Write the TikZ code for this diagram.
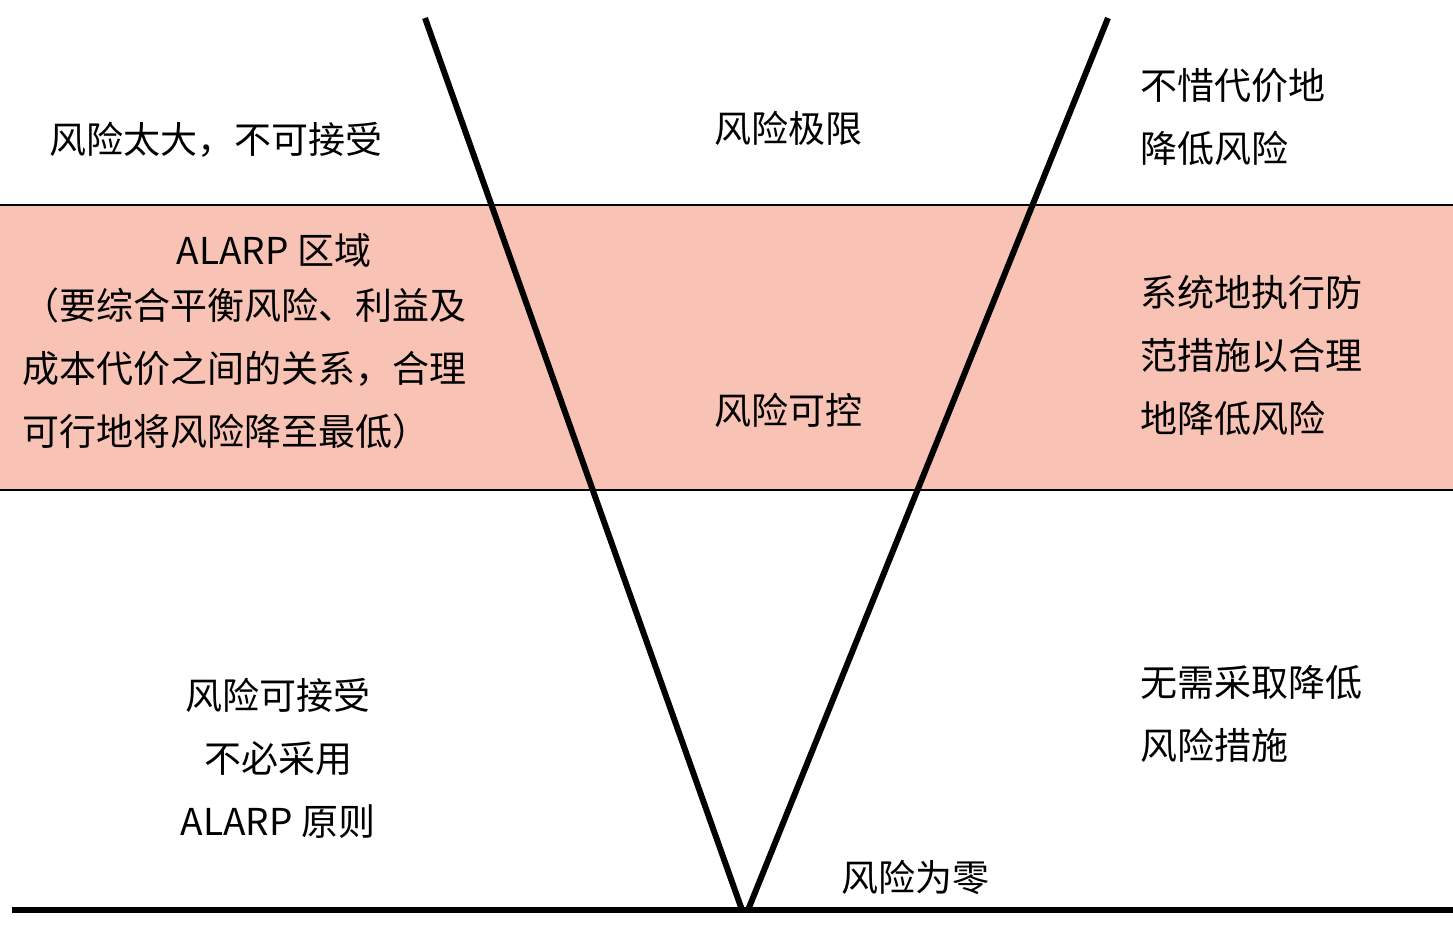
\documentclass[tikz,border=0pt]{standalone}
\usepackage{fontspec}
\setmainfont{Noto Sans CJK SC}
\definecolor{band}{HTML}{F8C3B5}
\begin{document}
\begin{tikzpicture}[x=1pt,y=-1pt,
  lbl/.style={font=\fontsize{37}{63}\selectfont,inner sep=0pt},
  thick line/.style={line width=6pt}]
\useasboundingbox (0,0) rectangle (1453,924);
\fill[band] (0,205) rectangle (1453,490);
\draw[line width=2pt] (0,205) -- (1453,205);
\draw[line width=2pt] (0,490) -- (1453,490);
\coordinate (lt) at (425,18);
\coordinate (rt) at (1108,18);
\coordinate (bl) at (742,910);
\coordinate (br) at (748,910);
\coordinate (g0) at (12,910);
\coordinate (g1) at (1453,910);
\draw[thick line] (lt) -- (bl);
\draw[thick line] (rt) -- (br);
\draw[thick line] (g0) -- (g1);
\node[lbl] (a) at (216,140) {风险太大，不可接受};
\node[lbl] (b) at (788,128) {风险极限};
\node[lbl,align=left,anchor=west] (c) at (1140,117) {不惜代价地\\降低风险};
\node[lbl] (d) at (274,250) {ALARP 区域};
\node[lbl,align=left,anchor=west] (e) at (22,368) {（要综合平衡风险、利益及\\成本代价之间的关系，合理\\可行地将风险降至最低）};
\node[lbl] (f) at (788,410) {风险可控};
\node[lbl,align=left,anchor=west] (g) at (1140,355) {系统地执行防\\范措施以合理\\地降低风险};
\node[lbl,align=center] (h) at (278,758) {风险可接受\\不必采用\\ALARP 原则};
\node[lbl,align=left,anchor=west] (i) at (1140,714) {无需采取降低\\风险措施};
\node[lbl] (j) at (915,877) {风险为零};
\end{tikzpicture}
\end{document}
